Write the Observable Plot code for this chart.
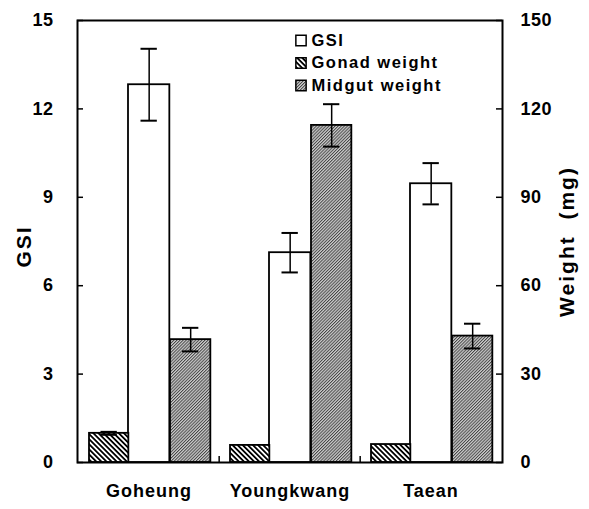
<!DOCTYPE html>
<html>
<head>
<meta charset="utf-8">
<script src="https://cdn.jsdelivr.net/npm/d3@7"></script>
<script src="https://cdn.jsdelivr.net/npm/@observablehq/plot@0.6"></script>
<style>
  html, body { margin: 0; padding: 0; background: white; }
  svg text { font-family: "Liberation Sans", Arial, sans-serif; font-weight: bold; }
  g[aria-label="x-axis tick label"] { font-size: 18px; }
  g[aria-label="x-axis tick label"] text { letter-spacing: 1px; }
  g[aria-label="y-axis tick label"] { font-size: 18px; }
  g[aria-label="y-axis tick label"] text { letter-spacing: 0.5px; }
</style>
</head>
<body>
<div id="chart"></div>
<script>
// ---- data ----
const sites = ["Goheung", "Youngkwang", "Taean"];
const gsi = [12.82, 7.12, 9.46];
const gsiErr = [1.22, 0.67, 0.70];
const gonadWeight = [9.9, 5.8, 6.1];     // mg
const gonadErr = [0.5, 0, 0];
const midgutWeight = [41.7, 114.4, 42.9]; // mg
const midgutErr = [4.0, 7.2, 4.2];
const gsiTicks = [0, 3, 6, 9, 12, 15];
const weightTicks = [0, 30, 60, 90, 120, 150];
const seriesNames = ["GSI", "Gonad weight", "Midgut weight"];
const axisTitles = ["GSI", "Weight  (mg)"];

const ratio = weightTicks[weightTicks.length - 1] / gsiTicks[gsiTicks.length - 1];

const rows = sites.map((site, i) => ({
  site,
  gsi: gsi[i], gsiErr: gsiErr[i],
  gonad: gonadWeight[i] / ratio, gonadErr: gonadErr[i] / ratio,
  midgut: midgutWeight[i] / ratio, midgutErr: midgutErr[i] / ratio
}));

const W = 589, H = 509;
const mL = 77, mR = 87, mT = 20, mB = 47;
const bw = (W - mL - mR) / sites.length;
const fw = W - mL - mR;

const fills = {
  "GSI": "white",
  "Gonad weight": "url(#gonadHatch)",
  "Midgut weight": "url(#midgutHatch)"
};

// bar slots inside each band (pixel offsets from band start)
const slot = {
  gonad: [11, 51],
  gsi: [50, 92],
  midgut: [92, 133]
};
const center = s => (slot[s][0] + slot[s][1]) / 2;
const capHalf = 8.5;

function bars(key, fill) {
  return Plot.barY(rows, {
    x: "site", y: key, fill, stroke: "black", strokeWidth: 1.8,
    insetLeft: slot[key][0], insetRight: bw - slot[key][1]
  });
}
function errs(key) {
  const ek = key + "Err";
  const data = rows.filter(d => d[ek] > 0);
  const c = center(key);
  return [
    Plot.ruleX(data, {x: "site", y1: d => d[key] - d[ek], y2: d => d[key] + d[ek],
      dx: c - bw / 2, stroke: "black", strokeWidth: 1.5}),
    Plot.tickY(data, {x: "site", y: d => d[key] + d[ek], stroke: "black", strokeWidth: 2,
      insetLeft: c - capHalf, insetRight: bw - c - capHalf}),
    Plot.tickY(data, {x: "site", y: d => d[key] - d[ek], stroke: "black", strokeWidth: 2,
      insetLeft: c - capHalf, insetRight: bw - c - capHalf})
  ];
}

const legendMarks = seriesNames.flatMap((name, i) => [
  Plot.dot([name], {frameAnchor: "top-left", dx: 223.5, dy: 20 + i * 22.5, symbol: "square",
    r: 5.8, fill: fills[name], stroke: "black", strokeWidth: 1.5}),
  Plot.text([name], {frameAnchor: "top-left", dx: 234, dy: 20 + i * 22.5, text: d => d,
    textAnchor: "start", lineAnchor: "middle", fontSize: 16.5, fontWeight: "bold", fill: "black"})
]);

const chart = Plot.plot({
  width: W, height: H,
  marginLeft: mL, marginRight: mR, marginTop: mT, marginBottom: mB,
  style: {background: "white", fontFamily: "Liberation Sans, Arial, sans-serif", fontWeight: "bold", fontSize: "17px", color: "black"},
  x: {domain: sites, padding: 0, axis: null},
  y: {domain: [gsiTicks[0], gsiTicks[gsiTicks.length - 1]], axis: null},
  marks: [
    bars("gsi", fills["GSI"]),
    bars("gonad", fills["Gonad weight"]),
    bars("midgut", fills["Midgut weight"]),
    ...errs("gsi"), ...errs("gonad"), ...errs("midgut"),
    Plot.frame({stroke: "black", strokeWidth: 2}),
    Plot.tickY(gsiTicks, {y: d => d, insetRight: fw - 6, stroke: "black", strokeWidth: 1.5}),
    Plot.tickY(gsiTicks, {y: d => d, insetLeft: fw - 6, stroke: "black", strokeWidth: 1.5}),
    Plot.ruleX(sites.slice(1), {x: d => d, dx: -bw / 2, insetTop: (H - mT - mB) - 6, stroke: "black", strokeWidth: 1.5}),
    Plot.axisX({tickSize: 0, tickPadding: 22, label: null}),
    Plot.axisY({anchor: "left", ticks: gsiTicks, tickSize: 0, tickPadding: 24, label: null}),
    Plot.axisY({anchor: "right", ticks: gsiTicks, tickFormat: d => d * ratio, tickSize: 0, tickPadding: 18, label: null}),
    Plot.text([axisTitles[0]], {frameAnchor: "left", dx: -53, dy: 5, rotate: -90, textAnchor: "middle", lineAnchor: "middle", text: d => d, fontSize: 21, fontWeight: "bold", fill: "black"}),
    Plot.text([axisTitles[1]], {frameAnchor: "right", dx: 65, rotate: -90, textAnchor: "middle", lineAnchor: "middle", text: d => d, fontSize: 21, fontWeight: "bold", fill: "black"}),
    ...legendMarks
  ]
});

d3.select(chart).insert("defs", ":first-child").html(`
  <pattern id="gonadHatch" patternUnits="userSpaceOnUse" width="3.6" height="3.6" patternTransform="rotate(-45)">
    <rect width="3.6" height="3.6" fill="white"/>
    <line x1="0.9" y1="0" x2="0.9" y2="3.6" stroke="black" stroke-width="1.8"/>
  </pattern>
  <pattern id="midgutHatch" patternUnits="userSpaceOnUse" width="2.2" height="2.2" patternTransform="rotate(45)">
    <rect width="2.2" height="2.2" fill="#cdcdcd"/>
    <line x1="0.5" y1="0" x2="0.5" y2="2.2" stroke="#3a3a3a" stroke-width="0.9"/>
  </pattern>
`);

// letter spacing for legend and axis titles
d3.select(chart).selectAll("text")
  .filter(function() { return seriesNames.includes(this.textContent) && !this.closest('g[aria-label$="tick label"]'); })
  .style("letter-spacing", "1.5px");
d3.select(chart).selectAll("text")
  .filter(function() { return axisTitles.includes(this.textContent) && !this.closest('g[aria-label$="tick label"]') && +this.closest("g").getAttribute("font-size") === 21; })
  .style("letter-spacing", "2px");

document.getElementById("chart").appendChild(chart);
</script>
</body>
</html>
